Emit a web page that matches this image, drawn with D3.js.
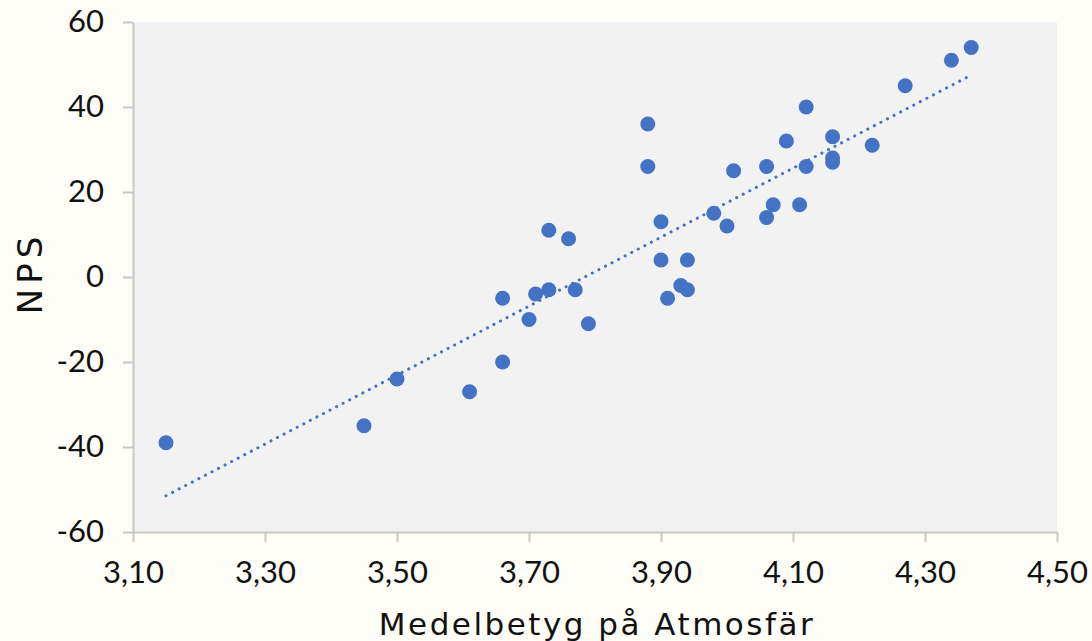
<!DOCTYPE html>
<html>
<head>
<meta charset="utf-8">
<script src="https://cdn.jsdelivr.net/npm/d3@7"></script>
<style>
  body { margin: 0; background: #fffdf7; }
  text { font-family: "Lato", "Open Sans", sans-serif; fill: #111; }
  .title { font-family: "DejaVu Sans", sans-serif; }
</style>
</head>
<body>
<div id="chart"></div>
<script>
var width = 1092,
    height = 641;

// Medelbetyg på Atmosfär
var atmosfar = [3.15, 3.45, 3.50, 3.61, 3.66, 3.66, 3.70, 3.71, 3.73, 3.73,
                3.76, 3.77, 3.79, 3.88, 3.88, 3.90, 3.90, 3.91, 3.93, 3.94,
                3.94, 3.98, 4.00, 4.01, 4.06, 4.06, 4.07, 4.09, 4.11, 4.12,
                4.12, 4.16, 4.16, 4.16, 4.22, 4.27, 4.34, 4.37];
// NPS
var nps = [-39, -35, -24, -27, -20, -5, -10, -4, -3, 11,
           9, -3, -11, 36, 26, 13, 4, -5, -2, -3,
           4, 15, 12, 25, 26, 14, 17, 32, 17, 40,
           26, 33, 28, 27, 31, 45, 51, 54];

var xTicks = [3.1, 3.3, 3.5, 3.7, 3.9, 4.1, 4.3, 4.5];
var yTicks = [-60, -40, -20, 0, 20, 40, 60];

var margin = {top: 22, right: 35, bottom: 109, left: 133};

var svg = d3.select("#chart").append("svg")
    .attr("width", width)
    .attr("height", height);

var x = d3.scaleLinear().domain([3.1, 4.5]).range([margin.left, width - margin.right]);
var y = d3.scaleLinear().domain([-60, 60]).range([height - margin.bottom, margin.top]);

// plot area
svg.append("rect")
    .attr("x", x(3.1))
    .attr("y", y(60))
    .attr("width", x(4.5) - x(3.1))
    .attr("height", y(-60) - y(60))
    .attr("fill", "#f2f2f2");

var fmt = function(d) { return d3.format(".2f")(d).replace(".", ","); };

var xAxis = svg.append("g")
    .attr("transform", "translate(0," + y(-60) + ")")
    .call(d3.axisBottom(x).tickValues(xTicks).tickFormat(fmt).tickSize(10).tickSizeOuter(0).tickPadding(19));

var yAxis = svg.append("g")
    .attr("transform", "translate(" + x(3.1) + ",0)")
    .call(d3.axisLeft(y).tickValues(yTicks).tickFormat(d3.format("d")).tickSize(10).tickSizeOuter(0).tickPadding(19));

[xAxis, yAxis].forEach(function(a) {
  a.select(".domain").attr("stroke", "#c8c8c8").attr("stroke-width", 2);
  a.selectAll(".tick line").attr("stroke", "#c8c8c8").attr("stroke-width", 2);
  a.selectAll(".tick text").style("font-size", "31px").attr("fill", "#111");
});
yAxis.selectAll(".tick text").text(function(d) { return d < 0 ? "-" + Math.abs(d) : d; });

// linear trend
var mx = d3.mean(atmosfar),
    my = d3.mean(nps);
var slope = d3.sum(atmosfar, function(v, i) { return (v - mx) * (nps[i] - my); }) /
            d3.sum(atmosfar, function(v) { return (v - mx) * (v - mx); });
var icpt = my - slope * mx;
var x0 = d3.min(atmosfar), x1 = d3.max(atmosfar);

svg.append("line")
    .attr("x1", x(x0)).attr("y1", y(icpt + slope * x0))
    .attr("x2", x(x1)).attr("y2", y(icpt + slope * x1))
    .attr("stroke", "#4472c4")
    .attr("stroke-width", 3)
    .attr("stroke-linecap", "round")
    .attr("stroke-dasharray", "0.1 7.3");

svg.append("g").selectAll("circle")
    .data(atmosfar)
    .enter()
    .append("circle")
    .attr("cx", function(d) { return x(d); })
    .attr("cy", function(d, i) { return y(nps[i]); })
    .attr("r", 7.5)
    .attr("fill", "#4472c4");

svg.append("text")
    .attr("class", "title")
    .attr("x", (x(3.1) + x(4.5)) / 2 + 2)
    .attr("y", 635)
    .attr("text-anchor", "middle")
    .style("font-size", "31px")
    .style("letter-spacing", "2.5px")
    .text("Medelbetyg på Atmosfär");

svg.append("text")
    .attr("class", "title")
    .attr("transform", "translate(42,273) rotate(-90)")
    .attr("text-anchor", "middle")
    .style("font-size", "34px")
    .style("letter-spacing", "5px")
    .text("NPS");
</script>
</body>
</html>
